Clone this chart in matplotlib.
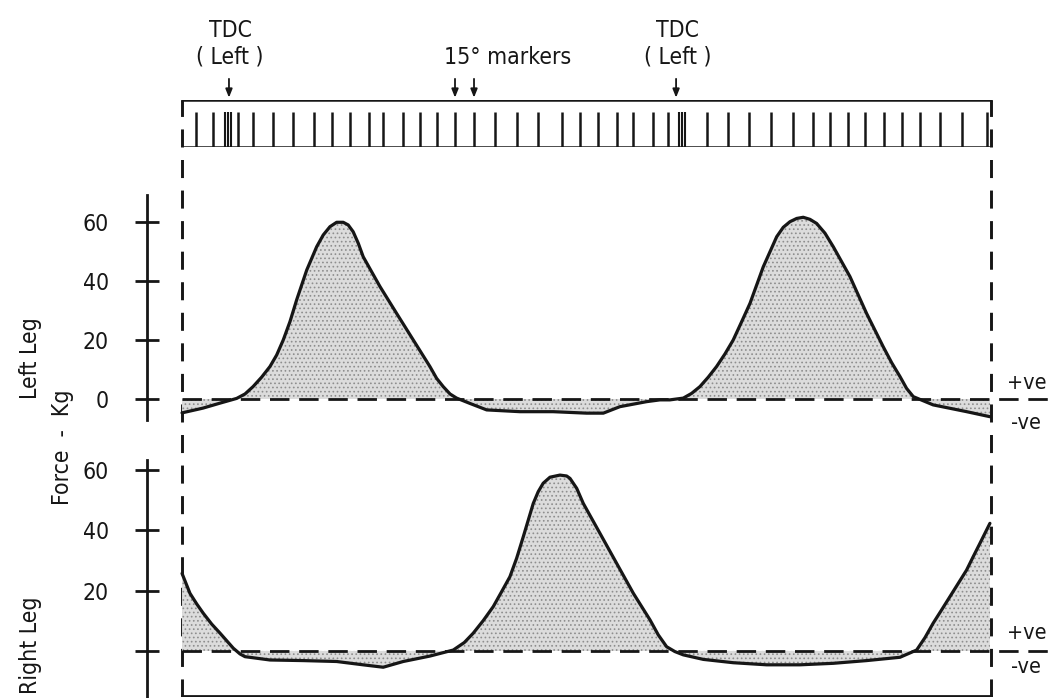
import matplotlib
matplotlib.use("Agg")
import matplotlib.pyplot as plt
from matplotlib import font_manager

# ---------------- data (crank angle in degrees, force in kg) ----------------
left_x = [-37.8, -21, -7.2, 6.2, 12.9, 19.4, 26.3, 33, 38.4, 43.7, 49.1, 54.5, 62.6, 70.6,
          75.9, 81.3, 86.7, 92, 96, 100, 104.1, 108.1, 121.6, 135, 148.4, 161.8, 167.2,
          172.5, 178, 183.3, 194, 207.5, 234.3, 261, 288, 301.4, 314.8, 336.3, 347, 355,
          365.8, 372.5, 379.2, 385.9, 392.6, 399.4, 406, 412.8, 419.5, 430.2, 441, 446.3,
          451.7, 457.1, 462.4, 467.8, 473.2, 479.9, 486.6, 500, 513.4, 526.8, 533.6, 540.3,
          545.6, 551, 567, 594, 612.7]
left_y = [-4.7, -3.1, -1.4, 0.2, 1.7, 4.2, 7.4, 11, 14.9, 20, 26.2, 33.6, 43.7, 51.6,
          55.6, 58.4, 59.9, 59.9, 59, 56.7, 52.8, 48.2, 38.1, 29, 20, 11, 7,
          4.2, 1.7, 0.3, -1.5, -3.7, -4.3, -4.3, -4.8, -4.8, -2.6, -0.9, -0.3, -0.3,
          0.3, 1.9, 4.2, 7.4, 11, 15.3, 20, 26.2, 32.4, 44.8, 55, 58.2,
          60.1, 61.2, 61.6, 60.9, 59.5, 56.2, 51.6, 41.5, 29, 17.7, 12.3, 7.6,
          3.6, 0.8, -2, -4.3, -6]

right_x = [-37.8, -31.4, -26, -20.7, -13.9, -7.2, 3.5, 8.9, 12.9, 33, 59.8, 86.7, 108, 124.2,
           140.3, 161.8, 180.6, 189.5, 196.7, 204.8, 212.8, 219.6, 226.2, 231.6, 237, 245,
           249, 253, 258.5, 266.5, 271.9, 274.6, 280, 285.3, 298.7, 312.2, 325.6, 339,
           345.7, 352.4, 359, 365.8, 381.9, 406, 433, 459.7, 486.6, 513.4, 540.3, 553.7,
           560.4, 567, 573.8, 580.5, 587.2, 593.9, 599.3, 604.7, 612.7]
right_y = [25.7, 19.1, 15.6, 12.5, 8.9, 5.9, 0.9, -1, -1.9, -3, -3.2, -3.5, -4.6, -5.4,
           -3.5, -1.7, 0.3, 2.8, 5.9, 10.1, 14.7, 19.7, 24.6, 30.7, 37.9, 48.9,
           52.8, 55.6, 57.6, 58.3, 58, 57.2, 53.9, 48.9, 39, 29, 19.1, 10.3,
           5.3, 1.4, -0.2, -1.3, -2.8, -3.9, -4.6, -4.6, -4.1, -3.2, -2.1, 0.3,
           4.4, 9.2, 13.6, 18, 22.4, 26.8, 31.3, 35.7, 42.3]

markers_15deg = [-26.6, -12.6, 7.5, 19.6, 35.2, 51.3, 68.4, 82.7, 97.4, 112.7, 124.3, 140.4,
                 153.8, 167.2, 182, 197.3, 214.2, 231.6, 249, 267.9, 282.6, 297.4, 312.2,
                 325.6, 341.1, 353.7, 385, 401.5, 418.7, 436.1, 453.9, 470.5, 483.9, 498.1,
                 512.1, 527.4, 541.6, 556.4, 572.5, 589.9, 610]
tdc_marks = [-0.5, 364.5]
tdc_arrows = [0, 360]
marker_arrows = [182, 197.3]

yticks = [0, 20, 40, 60]
top_ticklabels = ["0", "20", "40", "60"]
bot_ticklabels = ["", "20", "40", "60"]

# ---------------- font: prefer a narrow / condensed face ----------------
_fonts = font_manager.fontManager.ttflist
FAMILY, STRETCH = 'DejaVu Sans', 'normal'
if any(f.name == 'Liberation Sans Narrow' for f in _fonts):
    FAMILY, STRETCH = 'Liberation Sans Narrow', 'normal'
elif any(f.name == 'DejaVu Sans' and str(f.stretch) in ('condensed', 'semi-condensed') for f in _fonts):
    FAMILY, STRETCH = 'DejaVu Sans', 'condensed'
plt.rcParams['font.family'] = [FAMILY, 'DejaVu Sans']
plt.rcParams['font.stretch'] = STRETCH
plt.rcParams['lines.scale_dashes'] = False
plt.rcParams['hatch.linewidth'] = 0.7
FS = 16.5
INK = '#161616'

# ---------------- layout ----------------
W, H = 1054, 698


def box(x0, y0, x1, y1):
    return [x0 / W, 1 - y1 / H, (x1 - x0) / W, (y1 - y0) / H]


XLIM = (-66.0, 664.3)
frame_l, frame_r = -37.8, 613.5

fig = plt.figure(figsize=(W / 100, H / 100), dpi=100)

ax_frame = fig.add_axes(box(147, 100, 1054, 697))
ax_strip = fig.add_axes(box(147, 100, 1054, 147))
ax_top = fig.add_axes(box(147, 195, 1054, 420))
ax_bot = fig.add_axes(box(147, 460, 1054, 698))

for ax in (ax_frame, ax_strip, ax_top, ax_bot):
    ax.set_xlim(*XLIM)
    ax.patch.set_alpha(0)
    for s in ax.spines.values():
        s.set_visible(False)
    ax.set_xticks([])

# frame
ax_frame.set_ylim(0, 1)
ax_frame.set_yticks([])
for xf in (frame_l, frame_r):
    ax_frame.plot([xf, xf], [0, 1], color=INK, lw=2.1, dashes=(13, 9), solid_capstyle='butt')
ax_frame.plot([frame_l, frame_r], [0.001, 0.001], color=INK, lw=2.0)

# marker strip
ax_strip.set_ylim(0, 1)
ax_strip.set_yticks([])
ax_strip.plot([frame_l, frame_r], [1, 1], color=INK, lw=1.8)
ax_strip.plot([frame_l, frame_r], [0, 0], color=INK, lw=1.8)
ax_strip.vlines(markers_15deg, 0, 0.75, color=INK, lw=1.8)
for t in tdc_marks:
    ax_strip.vlines([t - 2.4, t, t + 2.4], 0, 0.75, color=INK, lw=1.5)
arrow_kw = dict(arrowstyle='-|>,head_length=0.5,head_width=0.2', color=INK, lw=1.3,
                shrinkA=0, shrinkB=0)
for a in tdc_arrows + marker_arrows:
    ax_strip.annotate('', xy=(a, 1.05), xytext=(a, 1.45), arrowprops=arrow_kw,
                      annotation_clip=False)
for a in tdc_arrows:
    ax_strip.text(a + 1, 2.47, 'TDC', ha='center', va='center', fontsize=FS, color=INK,
                  clip_on=False)
    ax_strip.text(a + 1, 1.91, '( Left )', ha='center', va='center', fontsize=FS, color=INK,
                  clip_on=False)
ax_strip.text(224, 1.91, '15° markers', ha='center', va='center', fontsize=FS, color=INK,
              clip_on=False)

# force panels
fill_kw = dict(facecolor='#dcdcdc', edgecolor='#8e8e8e', hatch='....', linewidth=0)
panels = [(ax_top, left_x, left_y, (-7.12, 69.15), top_ticklabels),
          (ax_bot, right_x, right_y, (-15.6, 63.3), bot_ticklabels)]
for ax, xs, ys, ylim, labels in panels:
    ax.set_ylim(*ylim)
    ax.fill_between(xs, ys, 0, **fill_kw)
    ax.plot(xs, ys, color=INK, lw=2.3, solid_joinstyle='round', solid_capstyle='round')
    ax.plot([frame_l, 661], [0, 0], color=INK, lw=2.0, dashes=(14, 7))
    ax.spines['left'].set_visible(True)
    ax.spines['left'].set_linewidth(2.0)
    ax.spines['left'].set_color(INK)
    ax.set_yticks(yticks)
    ax.set_yticklabels(labels, fontsize=FS, color=INK)
    ax.tick_params(axis='y', direction='inout', length=17, width=2.0, pad=19, colors=INK)

# +ve / -ve labels
ax_top.text(642.5, 5.3, '+ve', ha='center', va='center', fontsize=FS - 1, color=INK, clip_on=False)
ax_top.text(641.5, -8.2, '-ve', ha='center', va='center', fontsize=FS - 1, color=INK, clip_on=False)
ax_bot.text(642.5, 5.8, '+ve', ha='center', va='center', fontsize=FS - 1, color=INK, clip_on=False)
ax_bot.text(641.5, -5.3, '-ve', ha='center', va='center', fontsize=FS - 1, color=INK, clip_on=False)

# axis titles
fig.text(30 / W, 1 - 358 / H, 'Left Leg', rotation=90, ha='center', va='center', fontsize=FS, color=INK)
fig.text(62 / W, 1 - 447 / H, 'Force  -  Kg', rotation=90, ha='center', va='center', fontsize=FS, color=INK)
fig.text(30 / W, 1 - 645 / H, 'Right Leg', rotation=90, ha='center', va='center', fontsize=FS, color=INK)

fig.savefig('out.png', dpi=100, facecolor='white')
